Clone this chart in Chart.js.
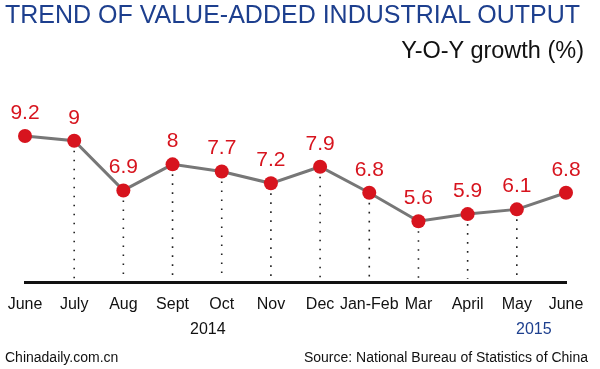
<!DOCTYPE html>
<html>
<head>
<meta charset="utf-8">
<script src="https://cdn.jsdelivr.net/npm/chart.js@4/dist/chart.umd.min.js"></script>
<style>
  body { margin: 0; background: #fff; }
  #wrap { position: relative; width: 600px; height: 369px; font-family: "Liberation Sans", Arial, sans-serif; }
  #wrap canvas { position: absolute; left: 0; top: 0; }
  .txt { position: absolute; white-space: nowrap; line-height: 1; }
  #title { left: 5px; top: 2px; font-size: 25px; color: #1d3f8e; }
  #sub { right: 16px; top: 39px; font-size: 23.5px; color: #111; }
  #y2014 { left: 190px; top: 321px; font-size: 16px; color: #111; }
  #y2015 { left: 516px; top: 321px; font-size: 16px; color: #1d3f8e; }
  #site { left: 5px; top: 350px; font-size: 14px; color: #111; }
  #src { right: 12px; top: 350px; font-size: 14px; color: #111; }
</style>
</head>
<body>
<div id="wrap">
  <canvas id="myChart" width="600" height="369"></canvas>
  <div class="txt" id="title">TREND OF VALUE-ADDED INDUSTRIAL OUTPUT</div>
  <div class="txt" id="sub">Y-O-Y growth (%)</div>
  <div class="txt" id="y2014">2014</div>
  <div class="txt" id="y2015">2015</div>
  <div class="txt" id="site">Chinadaily.com.cn</div>
  <div class="txt" id="src">Source: National Bureau of Statistics of China</div>
</div>
<script>
var months = ['June', 'July', 'Aug', 'Sept', 'Oct', 'Nov', 'Dec', 'Jan-Feb', 'Mar', 'April', 'May', 'June'];
var growth = [9.2, 9, 6.9, 8, 7.7, 7.2, 7.9, 6.8, 5.6, 5.9, 6.1, 6.8];

var red = '#d7141e';

// dotted drop lines + value labels
var marks = {
    id: 'marks',
    beforeDatasetsDraw: function (chart) {
        var ctx = chart.ctx;
        var pts = chart.getDatasetMeta(0).data;
        var bottom = chart.chartArea.bottom;
        ctx.save();
        ctx.strokeStyle = '#222';
        ctx.lineWidth = 1.6;
        ctx.setLineDash([1.6, 7.4]);
        for (var i = 1; i < pts.length - 1; i++) {
            ctx.beginPath();
            ctx.moveTo(pts[i].x, pts[i].y + 10);
            ctx.lineTo(pts[i].x, bottom - 4);
            ctx.stroke();
        }
        ctx.restore();
    },
    afterDatasetsDraw: function (chart) {
        var ctx = chart.ctx;
        var pts = chart.getDatasetMeta(0).data;
        ctx.save();
        ctx.fillStyle = red;
        ctx.font = '21px "Liberation Sans", Arial, sans-serif';
        ctx.textAlign = 'center';
        ctx.textBaseline = 'alphabetic';
        for (var i = 0; i < pts.length; i++) {
            ctx.fillText(String(growth[i]), pts[i].x, pts[i].y - 17);
        }
        ctx.restore();
    }
};

var ctx = document.getElementById('myChart').getContext('2d');

var chart = new Chart(ctx, {
    type: 'line',
    data: {
        labels: months,
        datasets: [{
            data: growth,
            borderColor: '#777',
            borderWidth: 3,
            pointRadius: 7,
            pointBackgroundColor: red,
            pointBorderColor: red,
            pointBorderWidth: 0,
            tension: 0,
            clip: false
        }]
    },
    options: {
        responsive: false,
        animation: false,
        events: [],
        layout: { padding: { left: 25, right: 34, top: 117, bottom: 51 } },
        plugins: { legend: { display: false }, tooltip: { enabled: false } },
        scales: {
            x: {
                grid: { display: false },
                border: { color: '#111', width: 3 },
                ticks: {
                    color: '#111',
                    padding: 4,
                    maxRotation: 0,
                    autoSkip: false,
                    font: { family: '"Liberation Sans", Arial, sans-serif', size: 16 }
                }
            },
            y: { display: false, min: 3, max: 10 }
        }
    },
    plugins: [marks]
});
</script>
</body>
</html>
